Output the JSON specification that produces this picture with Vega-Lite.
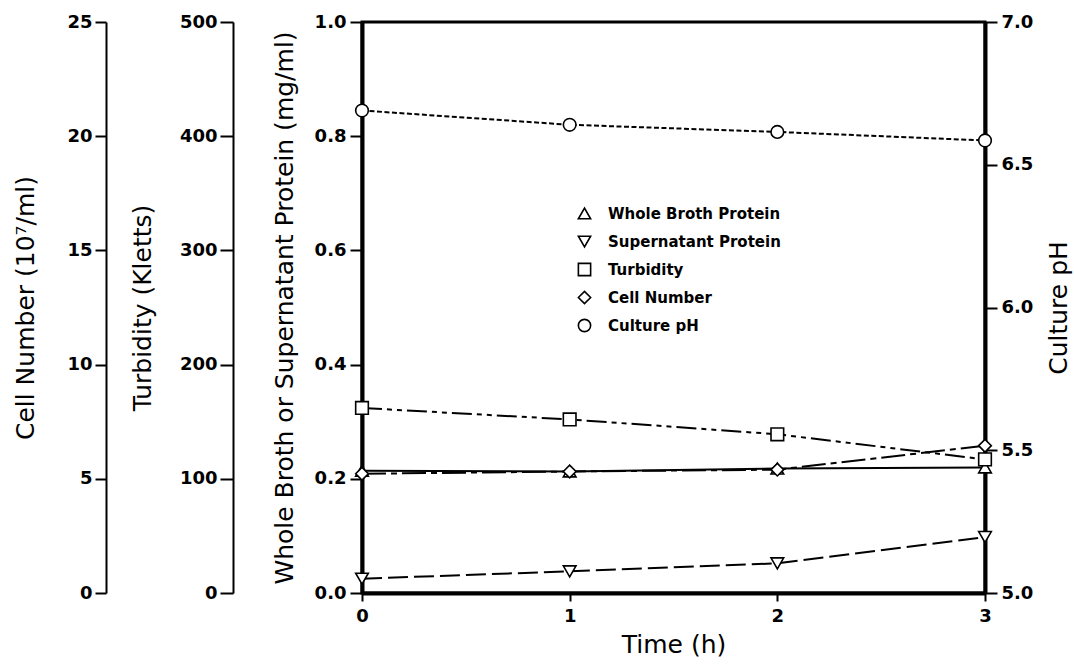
{
  "$schema": "https://vega.github.io/schema/vega-lite/v6.json",
  "width": 623,
  "height": 571,
  "autosize": {"type": "none"},
  "padding": {"left": 362, "top": 22, "right": 89, "bottom": 71},
  "background": "white",
  "config": {
    "view": {"stroke": "black", "strokeWidth": 3},
    "mark": {"color": "black"},
    "axis": {
      "labelFont": "DejaVu Sans",
      "labelFontWeight": "bold",
      "labelFontSize": 18,
      "labelColor": "black",
      "titleFont": "DejaVu Sans",
      "titleFontWeight": "normal",
      "titleFontSize": 25,
      "titleColor": "black",
      "domainColor": "black",
      "tickColor": "black",
      "grid": false,
      "labelFlush": false,
      "labelOverlap": false,
      "labelBound": false
    },
    "legend": {
      "labelFont": "DejaVu Sans",
      "labelFontWeight": "bold",
      "labelFontSize": 15,
      "labelColor": "black",
      "labelLimit": 0,
      "orient": "none",
      "legendX": 215,
      "legendY": 184,
      "padding": 0,
      "rowPadding": 9,
      "labelOffset": 16,
      "symbolSize": 150,
      "symbolStrokeColor": "black",
      "symbolStrokeWidth": 1.6,
      "symbolOpacity": 1
    }
  },
  "data": {
    "values": [
      {"time": 0, "series": "Whole Broth Protein", "value": 0.214},
      {"time": 1, "series": "Whole Broth Protein", "value": 0.213},
      {"time": 2, "series": "Whole Broth Protein", "value": 0.218},
      {"time": 3, "series": "Whole Broth Protein", "value": 0.220},
      {"time": 0, "series": "Supernatant Protein", "value": 0.025},
      {"time": 1, "series": "Supernatant Protein", "value": 0.038},
      {"time": 2, "series": "Supernatant Protein", "value": 0.052},
      {"time": 3, "series": "Supernatant Protein", "value": 0.098},
      {"time": 0, "series": "Turbidity", "value": 162},
      {"time": 1, "series": "Turbidity", "value": 152},
      {"time": 2, "series": "Turbidity", "value": 139},
      {"time": 3, "series": "Turbidity", "value": 117},
      {"time": 0, "series": "Cell Number", "value": 5.22},
      {"time": 1, "series": "Cell Number", "value": 5.32},
      {"time": 2, "series": "Cell Number", "value": 5.4},
      {"time": 3, "series": "Cell Number", "value": 6.45},
      {"time": 0, "series": "Culture pH", "value": 6.69},
      {"time": 1, "series": "Culture pH", "value": 6.64},
      {"time": 2, "series": "Culture pH", "value": 6.615},
      {"time": 3, "series": "Culture pH", "value": 6.585}
    ]
  },
  "encoding": {
    "x": {
      "field": "time",
      "type": "quantitative",
      "scale": {"domain": [0, 3], "nice": false, "zero": false},
      "axis": {
        "values": [0, 1, 2, 3],
        "format": "d",
        "title": "Time (h)",
        "domainWidth": 4,
        "tickSize": 8,
        "tickWidth": 2,
        "labelPadding": 6,
        "titlePadding": 7
      }
    }
  },
  "layer": [
    {
      "transform": [{"filter": {"field": "series", "equal": "Whole Broth Protein"}}],
      "encoding": {
        "y": {
          "field": "value",
          "type": "quantitative",
          "scale": {"domain": [0, 1], "nice": false, "zero": false},
          "axis": {
            "orient": "left",
            "values": [0, 0.2, 0.4, 0.6, 0.8, 1.0],
            "format": ".1f",
            "title": "Whole Broth or Supernatant Protein (mg/ml)",
            "domainWidth": 4,
            "tickSize": 12,
            "tickWidth": 2,
            "labelPadding": 4,
            "titlePadding": 17
          }
        }
      },
      "layer": [
        {"mark": {"type": "line", "stroke": "black", "strokeWidth": 2}},
        {"mark": {"type": "point", "shape": "triangle-up", "filled": true, "fill": "white", "strokeWidth": 0, "size": 160, "opacity": 1}},
        {
          "mark": {"type": "point", "filled": false, "stroke": "black", "strokeWidth": 1.6, "size": 160, "opacity": 1},
          "encoding": {"shape": {"field": "series", "type": "nominal", "title": null, "scale": {"domain": ["Whole Broth Protein", "Supernatant Protein", "Turbidity", "Cell Number", "Culture pH"], "range": ["triangle-up", "triangle-down", "square", "diamond", "circle"]}}}
        }
      ]
    },
    {
      "transform": [{"filter": {"field": "series", "equal": "Supernatant Protein"}}],
      "encoding": {
        "y": {
          "field": "value",
          "type": "quantitative",
          "scale": {"domain": [0, 1], "nice": false, "zero": false},
          "axis": null
        }
      },
      "layer": [
        {"mark": {"type": "line", "stroke": "black", "strokeWidth": 2, "strokeDash": [20, 6]}},
        {"mark": {"type": "point", "shape": "triangle-down", "filled": true, "fill": "white", "strokeWidth": 0, "size": 160, "opacity": 1}},
        {
          "mark": {"type": "point", "filled": false, "stroke": "black", "strokeWidth": 1.6, "size": 160, "opacity": 1},
          "encoding": {"shape": {"field": "series", "type": "nominal", "title": null, "scale": {"domain": ["Whole Broth Protein", "Supernatant Protein", "Turbidity", "Cell Number", "Culture pH"], "range": ["triangle-up", "triangle-down", "square", "diamond", "circle"]}}}
        }
      ]
    },
    {
      "transform": [{"filter": {"field": "series", "equal": "Turbidity"}}],
      "encoding": {
        "y": {
          "field": "value",
          "type": "quantitative",
          "scale": {"domain": [0, 500], "nice": false, "zero": false},
          "axis": {
            "orient": "left",
            "offset": 129,
            "values": [0, 100, 200, 300, 400, 500],
            "title": "Turbidity (Kletts)",
            "domainWidth": 2,
            "tickSize": 13,
            "tickWidth": 2,
            "labelPadding": 3,
            "titlePadding": 24
          }
        }
      },
      "layer": [
        {"mark": {"type": "line", "stroke": "black", "strokeWidth": 2, "strokeDash": [20, 5, 5, 5, 5, 5]}},
        {"mark": {"type": "point", "shape": "square", "filled": true, "fill": "white", "strokeWidth": 0, "size": 160, "opacity": 1}},
        {
          "mark": {"type": "point", "filled": false, "stroke": "black", "strokeWidth": 1.6, "size": 160, "opacity": 1},
          "encoding": {"shape": {"field": "series", "type": "nominal", "title": null, "scale": {"domain": ["Whole Broth Protein", "Supernatant Protein", "Turbidity", "Cell Number", "Culture pH"], "range": ["triangle-up", "triangle-down", "square", "diamond", "circle"]}}}
        }
      ]
    },
    {
      "transform": [{"filter": {"field": "series", "equal": "Cell Number"}}],
      "encoding": {
        "y": {
          "field": "value",
          "type": "quantitative",
          "scale": {"domain": [0, 25], "nice": false, "zero": false},
          "axis": {
            "orient": "left",
            "offset": 256,
            "values": [0, 5, 10, 15, 20, 25],
            "title": "Cell Number (10⁷/ml)",
            "domainWidth": 2,
            "tickSize": 11,
            "tickWidth": 2,
            "labelPadding": 3,
            "titlePadding": 28
          }
        }
      },
      "layer": [
        {"mark": {"type": "line", "stroke": "black", "strokeWidth": 2, "strokeDash": [24, 5, 6, 5]}},
        {"mark": {"type": "point", "shape": "diamond", "filled": true, "fill": "white", "strokeWidth": 0, "size": 160, "opacity": 1}},
        {
          "mark": {"type": "point", "filled": false, "stroke": "black", "strokeWidth": 1.6, "size": 160, "opacity": 1},
          "encoding": {"shape": {"field": "series", "type": "nominal", "title": null, "scale": {"domain": ["Whole Broth Protein", "Supernatant Protein", "Turbidity", "Cell Number", "Culture pH"], "range": ["triangle-up", "triangle-down", "square", "diamond", "circle"]}}}
        }
      ]
    },
    {
      "transform": [{"filter": {"field": "series", "equal": "Culture pH"}}],
      "encoding": {
        "y": {
          "field": "value",
          "type": "quantitative",
          "scale": {"domain": [5, 7], "nice": false, "zero": false},
          "axis": {
            "orient": "right",
            "values": [5, 5.5, 6, 6.5, 7],
            "format": ".1f",
            "title": "Culture pH",
            "titleAngle": 270,
            "titleBaseline": "top",
            "domainWidth": 4,
            "tickSize": 12,
            "tickWidth": 2,
            "labelPadding": 4,
            "titlePadding": 14
          }
        }
      },
      "layer": [
        {"mark": {"type": "line", "stroke": "black", "strokeWidth": 2, "strokeDash": [5, 2.5]}},
        {"mark": {"type": "point", "shape": "circle", "filled": true, "fill": "white", "strokeWidth": 0, "size": 160, "opacity": 1}},
        {
          "mark": {"type": "point", "filled": false, "stroke": "black", "strokeWidth": 1.6, "size": 160, "opacity": 1},
          "encoding": {"shape": {"field": "series", "type": "nominal", "title": null, "scale": {"domain": ["Whole Broth Protein", "Supernatant Protein", "Turbidity", "Cell Number", "Culture pH"], "range": ["triangle-up", "triangle-down", "square", "diamond", "circle"]}}}
        }
      ]
    }
  ],
  "resolve": {"scale": {"y": "independent"}}
}
